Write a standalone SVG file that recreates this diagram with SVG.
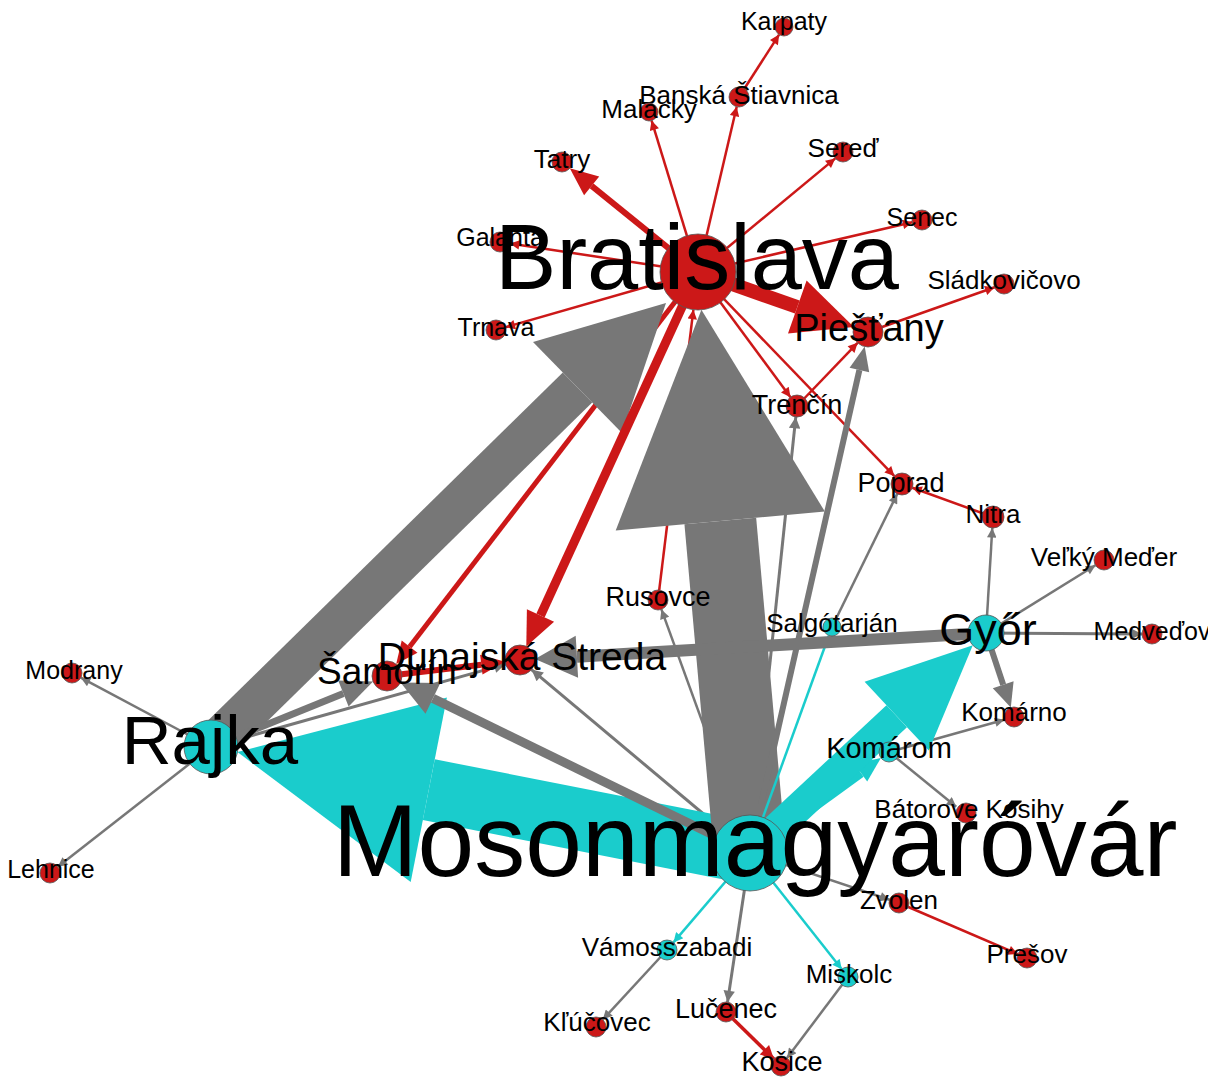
<svg xmlns="http://www.w3.org/2000/svg" width="1220" height="1077" viewBox="0 0 1220 1077">
<defs>
<style>
.er{stroke:#cc1818;fill:none}
.eg{stroke:#777777;fill:none}
.ec{stroke:#1acccc;fill:none}
.pr{fill:#cc1818}
.pg{fill:#777777}
.pc{fill:#1acccc}
.t{stroke-width:2.5}
.t3{stroke-width:3}
.nr{fill:#cc1818;stroke:#555;stroke-width:0.8}
.nc{fill:#1acccc;stroke:#555;stroke-width:0.8}
text{font-family:"Liberation Sans",Arial,sans-serif;fill:#000;text-anchor:middle}
.s{font-size:26px}
</style>
<marker id="ar" viewBox="0 0 10 10" refX="10" refY="5" markerWidth="4.4" markerHeight="3.8" orient="auto" markerUnits="strokeWidth"><path d="M0,0L10,5L0,10z" fill="#cc1818"/></marker>
<marker id="ag" viewBox="0 0 10 10" refX="10" refY="5" markerWidth="4.4" markerHeight="3.8" orient="auto" markerUnits="strokeWidth"><path d="M0,0L10,5L0,10z" fill="#777777"/></marker>
<marker id="ac" viewBox="0 0 10 10" refX="10" refY="5" markerWidth="4.4" markerHeight="3.8" orient="auto" markerUnits="strokeWidth"><path d="M0,0L10,5L0,10z" fill="#1acccc"/></marker>
<clipPath id="clipR"><rect x="0" y="0" width="1208" height="1077"/></clipPath>
</defs>
<rect width="1220" height="1077" fill="#fff"/>
<g id="connectors">
<g class="er t" marker-end="url(#ar)">
<path d="M739,97L779.1,34.6"/>
<path d="M698,272L736.7,106.7"/>
<path d="M698,272L651.6,120.6"/>
<path d="M698,272L835.3,158.4"/>
<path d="M698,272L912.3,222.3"/>
<path d="M698,272L509.9,243.5"/>
<path d="M698,272L505.6,327.2"/>
<path d="M698,272L790.5,397.2"/>
<path d="M698,272L894.4,476.1"/>
<path d="M658,600L693.4,309.7"/>
<path d="M797,406L857.6,342.8"/>
<path d="M868,332L994.6,287.3"/>
<path d="M993,517L912.3,487.8"/>
<path d="M899,903L1017.8,954.1"/>
<path d="M726,1012L773.9,1059" stroke-width="3.5"/>
</g>
<path class="er" d="M698,272L409.6,646.7" stroke-width="5"/>
<polygon class="pr" points="396.2,664.1 417.5,652.8 401.7,640.6"/>
<g class="eg t" marker-end="url(#ag)">
<path d="M211,747L80.8,677.7"/>
<path d="M211,747L57.9,866.8"/>
<path d="M211,747L505.6,664.1" stroke-width="3"/>
<path d="M750,853L531.5,669.6" stroke-width="3"/>
<path d="M750,853L661.4,609.4"/>
<path d="M750,853L795.8,416.9" stroke-width="3"/>
<path d="M832,627L897.2,493.9"/>
<path d="M986,633L992.3,528"/>
<path d="M986,633L1095.5,565.3"/>
<path d="M986,633L1142,633.9" stroke-width="3"/>
<path d="M889,752L1004.4,719.7"/>
<path d="M889,752L956.2,806.7"/>
<path d="M750,853L889.5,899.8"/>
<path d="M750,853L727.5,1002.1" stroke-width="3"/>
<path d="M667,950L602.8,1019.6"/>
<path d="M848,977L787,1058"/>
</g>
<path class="ec" d="M750,853L428.8,789.7" stroke-width="62"/>
<polygon class="pc" points="237.5,752.1 446.9,697.5 410.7,881.9"/>
<path class="eg" d="M750,853L720.3,521" stroke-width="72"/>
<polygon class="pg" points="701.4,309.8 824.9,511.6 615.7,530.4"/>
<path class="eg" d="M211,747L577.5,387.5" stroke-width="42"/>
<polygon class="pg" points="666,303 622,433 533,342"/>
<path class="er" d="M698,272L540.5,615.5" stroke-width="9"/>
<polygon class="pr" points="526.3,646.4 554.1,621.8 526.9,609.2"/>
<path class="ec" d="M750,853L860.7,772.6" stroke-width="10"/>
<polygon class="pc" points="880.9,757.9 867.2,781.5 854.2,763.7"/>
<path class="ec" d="M750,853L896.7,716.2" stroke-width="30"/>
<polygon class="pc" points="972.8,645.3 928.8,750.6 864.6,681.8"/>
<g class="ec t" marker-end="url(#ac)">
<path d="M750,853L828.9,635.5"/>
<path d="M750,853L673.5,942.4"/>
<path d="M750,853L841.8,969.2"/>
</g>
<path class="eg" d="M750,853L432.9,698.4" stroke-width="9"/>
<polygon class="pg" points="400.5,682.6 440.3,683.1 425.5,713.7"/>
<path class="eg" d="M211,747L343.4,693.6" stroke-width="7"/>
<polygon class="pg" points="373.1,681.6 348.6,706.6 338.2,680.6"/>
<path class="eg" d="M750,853L859.4,370" stroke-width="6"/>
<polygon class="pg" points="864.7,346.6 869.2,372.2 849.6,367.8"/>
<path class="eg" d="M986,633L576.9,656.7" stroke-width="12"/>
<polygon class="pg" points="535,659.1 578.1,677.7 575.7,635.7"/>
<path class="eg" d="M986,633L1003.2,684.7" stroke-width="6"/>
<polygon class="pg" points="1010.8,707.5 1013.6,681.2 992.8,688.2"/>
<path class="er" d="M387,676L481.3,664.7" stroke-width="6"/>
<polygon class="pr" points="505.1,661.8 482.5,674.6 480.1,654.8"/>
<path class="er" d="M698,272L591.6,185.9" stroke-width="6"/>
<polygon class="pr" points="569.8,168.3 599.2,176.6 584.1,195.2"/>
<path class="er" d="M698,272L797.3,307" stroke-width="14"/>
<polygon class="pr" points="853.9,327 788,333.4 806.6,280.6"/>
</g>
<g id="node-karpaty"><circle class="nr" cx="784" cy="27" r="9"/><text class="s" x="784" y="30" style="font-size:25px">Karpaty</text></g>
<g id="node-banska-stiavnica"><circle class="nr" cx="739" cy="97" r="10"/><text class="s" x="739" y="104">Banská Štiavnica</text></g>
<g id="node-malacky"><circle class="nr" cx="649" cy="112" r="9"/><text class="s" x="649" y="118">Malacky</text></g>
<g id="node-tatry"><circle class="nr" cx="562" cy="162" r="10"/><text class="s" x="562" y="168">Tatry</text></g>
<g id="node-sered"><circle class="nr" cx="843" cy="152" r="10"/><text class="s" x="843" y="157">Sereď</text></g>
<g id="node-senec"><circle class="nr" cx="922" cy="220" r="10"/><text class="s" x="922" y="226" style="font-size:25px">Senec</text></g>
<g id="node-galanta"><circle class="nr" cx="500" cy="242" r="10"/><text class="s" x="500" y="246" style="font-size:25px">Galanta</text></g>
<g id="node-sladkovicovo"><circle class="nr" cx="1004" cy="284" r="10"/><text class="s" x="1004" y="289">Sládkovičovo</text></g>
<g id="node-trnava"><circle class="nr" cx="496" cy="330" r="10"/><text class="s" x="496" y="336" style="font-size:25px">Trnava</text></g>
<g id="node-trencin"><circle class="nr" cx="797" cy="406" r="11"/><text class="s" x="797" y="414" style="font-size:27px">Trenčín</text></g>
<g id="node-poprad"><circle class="nr" cx="902" cy="484" r="11"/><text class="s" x="901" y="492" style="font-size:27px">Poprad</text></g>
<g id="node-nitra"><circle class="nr" cx="993" cy="517" r="11"/><text class="s" x="993" y="523">Nitra</text></g>
<g id="node-velky-meder"><circle class="nr" cx="1104" cy="560" r="10"/><text class="s" x="1104" y="566">Veľký Meďer</text></g>
<g id="node-medvedov"><circle class="nr" cx="1152" cy="634" r="10"/><text class="s" x="1152" y="640" style="font-size:25px" clip-path="url(#clipR)">Medveďov</text></g>
<g id="node-rusovce"><circle class="nr" cx="658" cy="600" r="10"/><text class="s" x="658" y="606" style="font-size:27px">Rusovce</text></g>
<g id="node-modrany"><circle class="nr" cx="72" cy="673" r="10"/><text class="s" x="74" y="679" style="font-size:25px">Modrany</text></g>
<g id="node-lehnice"><circle class="nr" cx="50" cy="873" r="10"/><text class="s" x="51" y="878" style="font-size:25px">Lehnice</text></g>
<g id="node-komarno"><circle class="nr" cx="1014" cy="717" r="10"/><text class="s" x="1014" y="721">Komárno</text></g>
<g id="node-batorove-kosihy"><circle class="nr" cx="966" cy="813" r="10"/><text class="s" x="969" y="818">Bátorove Kosihy</text></g>
<g id="node-zvolen"><circle class="nr" cx="899" cy="903" r="10"/><text class="s" x="899" y="909">Zvolen</text></g>
<g id="node-presov"><circle class="nr" cx="1027" cy="958" r="10"/><text class="s" x="1027" y="963">Prešov</text></g>
<g id="node-lucenec"><circle class="nr" cx="726" cy="1012" r="10"/><text class="s" x="726" y="1018" style="font-size:27px">Lučenec</text></g>
<g id="node-kosice"><circle class="nr" cx="781" cy="1066" r="10"/><text class="s" x="782" y="1071" style="font-size:27px">Košice</text></g>
<g id="node-klucovec"><circle class="nr" cx="596" cy="1027" r="10"/><text class="s" x="597" y="1031">Kľúčovec</text></g>
<g id="node-salgotarjan"><circle class="nc" cx="832" cy="627" r="9"/><text class="s" x="832" y="632">Salgótarján</text></g>
<g id="node-komarom"><circle class="nc" cx="889" cy="752" r="10"/><text class="s" x="889" y="758" style="font-size:29px">Komárom</text></g>
<g id="node-vamosszabadi"><circle class="nc" cx="667" cy="950" r="10"/><text class="s" x="667" y="956">Vámosszabadi</text></g>
<g id="node-miskolc"><circle class="nc" cx="848" cy="977" r="10"/><text class="s" x="849" y="983">Miskolc</text></g>
<g id="node-samorin"><circle class="nr" cx="387" cy="676" r="15"/><text x="387" y="684" font-size="37">Šamorín</text></g>
<g id="node-dunajska-streda"><circle class="nr" cx="520" cy="660" r="15"/><text x="522" y="670" font-size="39">Dunajská Streda</text></g>
<g id="node-piestany"><circle class="nr" cx="868" cy="332" r="15"/><text x="869" y="341" font-size="38">Piešťany</text></g>
<g id="node-gyor"><circle class="nc" cx="986" cy="633" r="18"/><text x="988" y="645" font-size="45">Győr</text></g>
<g id="node-rajka"><circle class="nc" cx="211" cy="747" r="27"/><text x="210" y="764" font-size="69">Rajka</text></g>
<g id="node-bratislava"><circle class="nr" cx="698" cy="272" r="38"/><text x="697" y="289" font-size="92">Bratislava</text></g>
<g id="node-mosonmagyarovar"><circle class="nc" cx="750" cy="853" r="38"/><text x="755" y="876" font-size="102">Mosonmagyaróvár</text></g>
</svg>
